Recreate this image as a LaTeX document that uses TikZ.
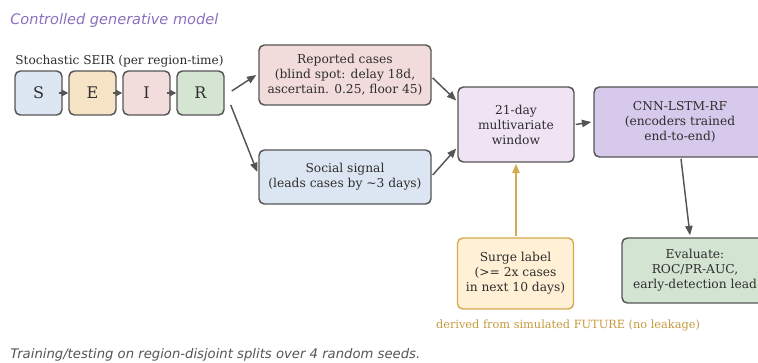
\documentclass[tikz,border=0pt]{standalone}
\usepackage{fontspec}
\setmainfont{DejaVu Serif}
\newfontfamily\dsans{DejaVu Sans}
\usetikzlibrary{arrows.meta}
\definecolor{edgeg}{HTML}{555555}
\definecolor{txt}{HTML}{2E2E2E}
\definecolor{titlep}{HTML}{8B6FC0}
\definecolor{gold}{HTML}{D6AA4E}
\definecolor{goldt}{HTML}{C49A3C}
\definecolor{cS}{HTML}{DCE7F3}
\definecolor{cE}{HTML}{F7E3C6}
\definecolor{cI}{HTML}{F2DCDC}
\definecolor{cR}{HTML}{D4E6D1}
\definecolor{cRep}{HTML}{F2DCDB}
\definecolor{cSoc}{HTML}{DCE6F2}
\definecolor{cWin}{HTML}{EFE3F4}
\definecolor{cCnn}{HTML}{D7C9EB}
\definecolor{cSurge}{HTML}{FFF0D6}
\definecolor{cEval}{HTML}{D3E5D2}
\tikzset{
  box/.style={draw=edgeg, line width=1.1pt, rounded corners=4pt, inner sep=0pt,
    align=center, text=txt, font=\fontsize{9.2}{11.3}\selectfont},
  seir/.style={box, minimum width=47*0.75pt, minimum height=44*0.75pt,
    font=\fontsize{12}{13}\selectfont},
  arr/.style={draw=edgeg, line width=1.1pt,
    -{Triangle[length=7pt,width=5.5pt]}, shorten >=0pt},
  garr/.style={draw=gold, line width=1.1pt,
    -{Triangle[length=7pt,width=5.5pt]}},
}
\begin{document}
\begin{tikzpicture}[x=0.75pt,y=-0.75pt]
\useasboundingbox (0,0) rectangle (758,363);
\clip (0,0) rectangle (758,363);
\node[anchor=west, inner sep=0pt, text=titlep, font=\dsans\itshape\fontsize{10.9}{12}\selectfont] (title) at (10,20) {Controlled generative model};
\node[text=txt, font=\fontsize{9.1}{10}\selectfont] (seirlab) at (119.5,61) {Stochastic SEIR (per region-time)};
\node[seir, fill=cS] (S) at (38.5,93) {S};
\node[seir, fill=cE] (E) at (92.5,93) {E};
\node[seir, fill=cI] (I) at (146.5,93) {I};
\node[seir, fill=cR] (R) at (200.5,93) {R};
\draw[arr, -{Triangle[length=5pt,width=5pt]}] ([shift={(-4,0)}]S.east) -- (E.west);
\draw[arr, -{Triangle[length=5pt,width=5pt]}] ([shift={(-4,0)}]E.east) -- (I.west);
\draw[arr, -{Triangle[length=5pt,width=5pt]}] ([shift={(-4,0)}]I.east) -- (R.west);
\node[box, fill=cRep, minimum width=172*0.75pt, minimum height=60*0.75pt] (rep) at (345,75) {Reported cases\\(blind spot: delay 18d,\\ascertain. 0.25, floor 45)};
\node[box, fill=cSoc, minimum width=172*0.75pt, minimum height=54*0.75pt] (soc) at (345,177) {Social signal\\(leads cases by \textasciitilde3 days)};
\node[box, fill=cWin, minimum width=116*0.75pt, minimum height=75*0.75pt] (win) at (516,124.5) {21-day\\multivariate\\window};
\node[box, fill=cCnn, minimum width=172*0.75pt, minimum height=70*0.75pt] (cnn) at (680,122) {CNN-LSTM-RF\\(encoders trained\\end-to-end)};
\node[box, draw=gold, fill=cSurge, minimum width=116*0.75pt, minimum height=71*0.75pt] (surge) at (515.5,273.5) {Surge label\\(>= 2x cases\\in next 10 days)};
\node[box, fill=cEval, minimum width=146*0.75pt, minimum height=65*0.75pt] (eval) at (695,270.5) {Evaluate:\\ROC/PR-AUC,\\early-detection lead};
\node[text=goldt, font=\fontsize{8.5}{9}\selectfont] (derived) at (568,325) {derived from simulated FUTURE (no leakage)};
\node[anchor=west, inner sep=0pt, text=edgeg, font=\dsans\itshape\fontsize{9.9}{10}\selectfont] (foot) at (10,355) {Training/testing on region-disjoint splits over 4 random seeds.};
\draw[arr] ([shift={(7,-2)}]R.east) -- ([shift={(-2,0)}]rep.west);
\draw[arr] ([shift={(6,12)}]R.east) -- ([shift={(-1,-5)}]soc.west);
\draw[arr] ([shift={(1,3)}]rep.east) -- ([shift={(-1,-24)}]win.west);
\draw[arr] ([shift={(1,-2)}]soc.east) -- ([shift={(-1,24)}]win.west);
\draw[arr] ([shift={(1,0)}]win.east) -- ([shift={(-2,0)}]cnn.west);
\draw[arr] ([shift={(1,1)}]cnn.south) -- ([shift={(-5,-2)}]eval.north);
\draw[garr] ([shift={(0.5,-1)}]surge.north) -- ([shift={(0,1)}]win.south);
\end{tikzpicture}
\end{document}
